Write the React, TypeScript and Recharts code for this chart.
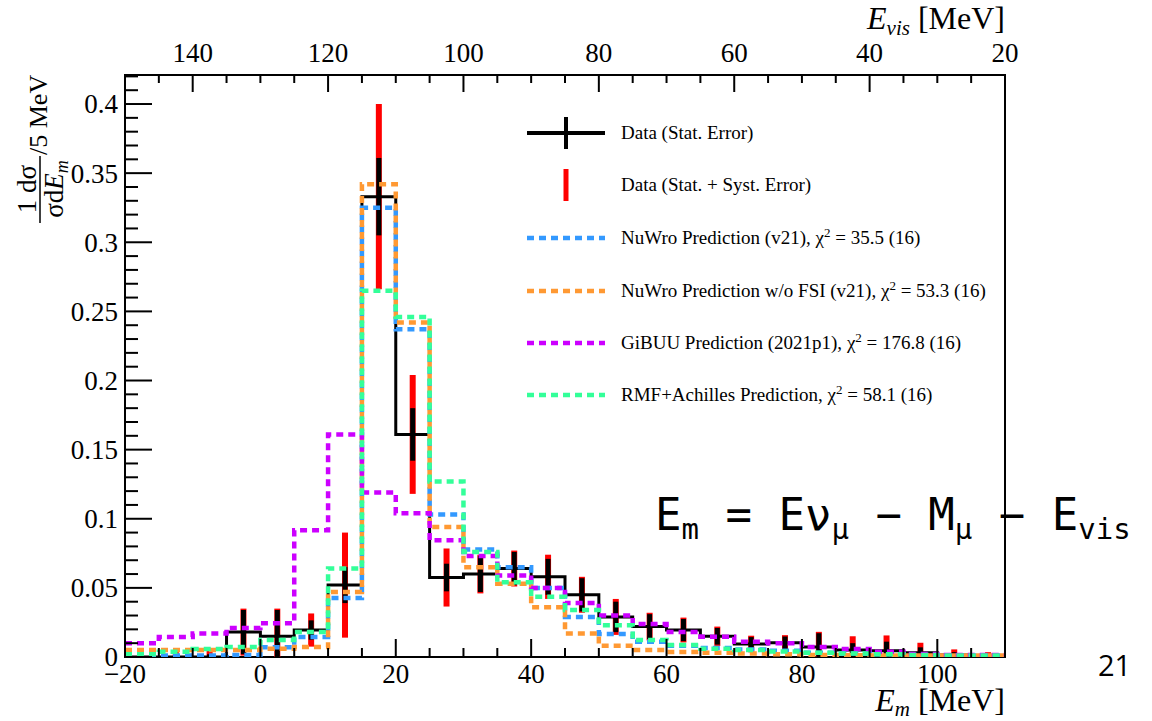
import React from 'react'
import { ComposedChart, Line, Scatter, ErrorBar, XAxis, YAxis, ReferenceArea } from 'recharts'

// bin edges (E_m, MeV) and bin centres, 5 MeV bins
const edges = [-20, -15, -10, -5, 0, 5, 10, 15, 20, 25, 30, 35, 40, 45, 50, 55, 60, 65, 70, 75, 80, 85, 90, 95, 100, 105, 110]
const centers = [-17.5, -12.5, -7.5, -2.5, 2.5, 7.5, 12.5, 17.5, 22.5, 27.5, 32.5, 37.5, 42.5, 47.5, 52.5, 57.5, 62.5, 67.5, 72.5, 77.5, 82.5, 87.5, 92.5, 97.5, 102.5, 107.5]

const dataVal = [0, 0, 0, 0.018, 0.015, 0.0195, 0.052, 0.333, 0.161, 0.0575, 0.06, 0.064, 0.058, 0.045, 0.029, 0.022, 0.0195, 0.015, 0.0094, 0.0103, 0.0072, 0.005, 0.0046, 0.003, 0.0015, 0.0005]
const statErr = [0, 0.001, 0.002, 0.016, 0.019, 0.007, 0.013, 0.028, 0.019, 0.01, 0.013, 0.012, 0.013, 0.012, 0.011, 0.009, 0.008, 0.006, 0.005, 0.0045, 0.01, 0.005, 0.0065, 0.004, 0.002, 0.001]
const totErr = [0, 0.005, 0.0065, 0.017, 0.02, 0.012, 0.038, 0.067, 0.043, 0.021, 0.014, 0.013, 0.016, 0.013, 0.013, 0.01, 0.009, 0.007, 0.006, 0.0055, 0.011, 0.01, 0.011, 0.0073, 0.004, 0.003]

const nuwro = [0.001, 0.001, 0.001, 0.0015, 0.007, 0.0144, 0.0426, 0.325, 0.237, 0.103, 0.0777, 0.065, 0.05, 0.029, 0.0166, 0.011, 0.0082, 0.0065, 0.0055, 0.0045, 0.003, 0.0025, 0.002, 0.0015, 0.001, 0.001]
const nuwroNoFsi = [0.005, 0.005, 0.005, 0.005, 0.006, 0.0072, 0.047, 0.342, 0.242, 0.094, 0.065, 0.053, 0.036, 0.017, 0.0082, 0.005, 0.0036, 0.003, 0.0025, 0.002, 0.0015, 0.0012, 0.001, 0.001, 0.001, 0.001]
const gibuu = [0.01, 0.0144, 0.017, 0.021, 0.0245, 0.0917, 0.161, 0.119, 0.104, 0.0845, 0.073, 0.059, 0.05, 0.039, 0.03, 0.0238, 0.018, 0.0147, 0.011, 0.01, 0.0072, 0.0058, 0.0038, 0.0022, 0.0015, 0.0015]
const achilles = [0.002, 0.0038, 0.0058, 0.0072, 0.0123, 0.018, 0.064, 0.265, 0.246, 0.127, 0.076, 0.054, 0.0435, 0.034, 0.023, 0.0123, 0.0087, 0.006, 0.005, 0.004, 0.003, 0.0025, 0.002, 0.0015, 0.001, 0.001]

const xMajor = [-20, 0, 20, 40, 60, 80, 100]
const xTicks = edges
const evisMajor = [140, 120, 100, 80, 60, 40, 20]
const yMajor = [0, 0.05, 0.1, 0.15, 0.2, 0.25, 0.3, 0.35, 0.4]
const yTicks = Array.from({ length: 43 }, (_, i) => i / 100)

const series = [
  { key: 'nuwro', color: '#3399ff', label: 'NuWro Prediction (v21), ', chi: ' = 35.5 (16)' },
  { key: 'nofsi', color: '#ff9933', label: 'NuWro Prediction w/o FSI (v21), ', chi: ' = 53.3 (16)' },
  { key: 'gibuu', color: '#cc00ff', label: 'GiBUU Prediction (2021p1), ', chi: ' = 176.8 (16)' },
  { key: 'achilles', color: '#33ff99', label: 'RMF+Achilles Prediction, ', chi: ' = 58.1 (16)' },
]

const last = dataVal.length - 1
const steps = edges.map((x, i) => {
  const j = Math.min(i, last)
  return { x, data: dataVal[j], nuwro: nuwro[j], nofsi: nuwroNoFsi[j], gibuu: gibuu[j], achilles: achilles[j] }
})

const points = centers.map((x, i) => ({
  x,
  y: dataVal[i],
  stat: [Math.min(statErr[i], dataVal[i]), statErr[i]],
  tot: [Math.min(totErr[i], dataVal[i]), totErr[i]],
}))

const serif = "'Liberation Serif', 'Times New Roman', serif"
const serifStyle = { fontFamily: serif, whiteSpace: 'pre' as const }
const minus = (v: number) => (v < 0 ? '\u2212' + Math.abs(v) : String(v))

const BottomTick = ({ x, y, payload }: any) => {
  const major = xMajor.includes(payload.value)
  return (
    <g>
      <line x1={x} x2={x} y1={y} y2={y - (major ? 18 : 9)} stroke="#000" strokeWidth={2} />
      {major && (
        <text x={x} y={y + 26} textAnchor="middle" style={serifStyle} fontSize={27} fill="#000">
          {minus(payload.value)}
        </text>
      )}
    </g>
  )
}

const TopTick = ({ x, y, payload }: any) => {
  const evis = 130 - payload.value
  const major = evisMajor.includes(evis)
  return (
    <g>
      <line x1={x} x2={x} y1={y} y2={y + (major ? 17 : 8)} stroke="#000" strokeWidth={2} />
      {major && (
        <text x={x} y={y - 13} textAnchor="middle" style={serifStyle} fontSize={27} fill="#000">
          {evis}
        </text>
      )}
    </g>
  )
}

const LeftTick = ({ x, y, payload }: any) => {
  const v = Math.round(payload.value * 100) / 100
  const major = yMajor.includes(v)
  return (
    <g>
      <line x1={x} x2={x + (major ? 27 : 13)} y1={y} y2={y} stroke="#000" strokeWidth={2} />
      {major && (
        <text x={x - 7} y={y} dy="0.35em" textAnchor="end" style={serifStyle} fontSize={27} fill="#000">
          {String(v)}
        </text>
      )}
    </g>
  )
}

function Overlay() {
  const rowY = [133, 185, 238, 291, 343, 395]
  return (
    <svg width={1152} height={721} style={{ position: 'absolute', left: 0, top: 0, pointerEvents: 'none' }}>
      {/* legend */}
      <line x1={527} x2={605} y1={rowY[0]} y2={rowY[0]} stroke="#000" strokeWidth={4} />
      <line x1={566} x2={566} y1={rowY[0] - 16} y2={rowY[0] + 16} stroke="#000" strokeWidth={4} />
      <text x={621} y={rowY[0] + 6} style={serifStyle} fontSize={19} fill="#000">Data (Stat. Error)</text>
      <line x1={566} x2={566} y1={rowY[1] - 16} y2={rowY[1] + 16} stroke="#ff0000" strokeWidth={5} />
      <text x={621} y={rowY[1] + 6} style={serifStyle} fontSize={19} fill="#000">Data (Stat. + Syst. Error)</text>
      {series.map((s, i) => (
        <g key={s.key}>
          <line x1={527} x2={605} y1={rowY[i + 2]} y2={rowY[i + 2]} stroke={s.color} strokeWidth={4.5} strokeDasharray="7 5" />
          <text x={621} y={rowY[i + 2] + 6} style={serifStyle} fontSize={19} fill="#000">
            {s.label}χ<tspan fontSize={13} dy={-7}>2</tspan>
            <tspan dy={7}>{s.chi}</tspan>
          </text>
        </g>
      ))}

      {/* axis titles */}
      <text x={1005} y={711} textAnchor="end" style={serifStyle} fontSize={32} fill="#000">
        <tspan fontStyle="italic">E</tspan>
        <tspan fontStyle="italic" fontSize={21} dy={5}>m</tspan>
        <tspan dy={-5}> [MeV]</tspan>
      </text>
      <text x={1005} y={29} textAnchor="end" style={serifStyle} fontSize={32} fill="#000">
        <tspan fontStyle="italic">E</tspan>
        <tspan fontStyle="italic" fontSize={21} dy={6}>vis</tspan>
        <tspan dy={-6}> [MeV]</tspan>
      </text>
      <g transform="rotate(-90)" fill="#000">
        <text x={-189} y={36} textAnchor="middle" fontSize={27} style={serifStyle}>1 dσ</text>
        <line x1={-223} x2={-156} y1={40} y2={40} stroke="#000" strokeWidth={1.5} />
        <text x={-189} y={63} textAnchor="middle" fontSize={27} style={serifStyle}>
          σd<tspan fontStyle="italic">E</tspan>
          <tspan fontStyle="italic" fontSize={18} dy={5}>m</tspan>
        </text>
        <text x={-155} y={47} fontSize={26} style={serifStyle}>/5 MeV</text>
      </g>

      {/* formula and page number */}
      <text x={655} y={530} fontFamily="'DejaVu Sans Mono', monospace" fontSize={44} fill="#000" style={{ whiteSpace: 'pre' }}>
        E<tspan fontSize={29} dy={9}>m</tspan>
        <tspan dy={-9}> = Eν</tspan>
        <tspan fontSize={29} dy={9}>μ</tspan>
        <tspan dy={-9}> − M</tspan>
        <tspan fontSize={29} dy={9}>μ</tspan>
        <tspan dy={-9}> − E</tspan>
        <tspan fontSize={29} dy={9}>vis</tspan>
      </text>
      <text x={1098} y={676} fontFamily="'Open Sans', 'Liberation Sans', sans-serif" fontSize={29} fill="#000">21</text>
    </svg>
  )
}

export default function App() {
  return (
    <div style={{ position: 'absolute', left: 0, top: 0, width: 1152, height: 721, background: '#fff' }}>
      <ComposedChart width={1152} height={721} data={steps} margin={{ top: 45, right: 147, bottom: 34, left: 65 }}>
        <XAxis
          dataKey="x"
          type="number"
          domain={[-20, 110]}
          allowDataOverflow
          ticks={xTicks}
          interval={0}
          tickSize={0}
          tickMargin={0}
          tickLine={false}
          axisLine={false}
          tick={<BottomTick />}
          height={30}
        />
        <XAxis
          xAxisId="top"
          orientation="top"
          dataKey="x"
          type="number"
          domain={[-20, 110]}
          allowDataOverflow
          ticks={xTicks}
          interval={0}
          tickSize={0}
          tickMargin={0}
          tickLine={false}
          axisLine={false}
          tick={<TopTick />}
          height={30}
        />
        <YAxis
          type="number"
          domain={[0, 0.421]}
          allowDataOverflow
          ticks={yTicks}
          interval={0}
          tickSize={0}
          tickMargin={0}
          tickLine={false}
          axisLine={false}
          tick={<LeftTick />}
          width={60}
        />
        <ReferenceArea x1={-20} x2={110} y1={0} y2={0.421} fill="none" stroke="#000" strokeWidth={2} ifOverflow="visible" />

        <Scatter data={points} dataKey="y" shape={() => <g />} isAnimationActive={false}>
          <ErrorBar dataKey="tot" direction="y" width={0} stroke="#ff0000" strokeWidth={6} isAnimationActive={false} />
        </Scatter>
        <Line dataKey="data" type="stepAfter" stroke="#000" strokeWidth={3} dot={false} activeDot={false} isAnimationActive={false} />
        <Scatter data={points} dataKey="y" shape={() => <g />} isAnimationActive={false}>
          <ErrorBar dataKey="stat" direction="y" width={0} stroke="#000" strokeWidth={5} isAnimationActive={false} />
        </Scatter>
        {series.map((s) => (
          <Line
            key={s.key}
            dataKey={s.key}
            type="stepAfter"
            stroke={s.color}
            strokeWidth={4.5}
            strokeDasharray="7 5"
            dot={false}
            activeDot={false}
            isAnimationActive={false}
          />
        ))}
        <Line xAxisId="top" dataKey="data" stroke="none" dot={false} activeDot={false} isAnimationActive={false} />
      </ComposedChart>
      <Overlay />
    </div>
  )
}
